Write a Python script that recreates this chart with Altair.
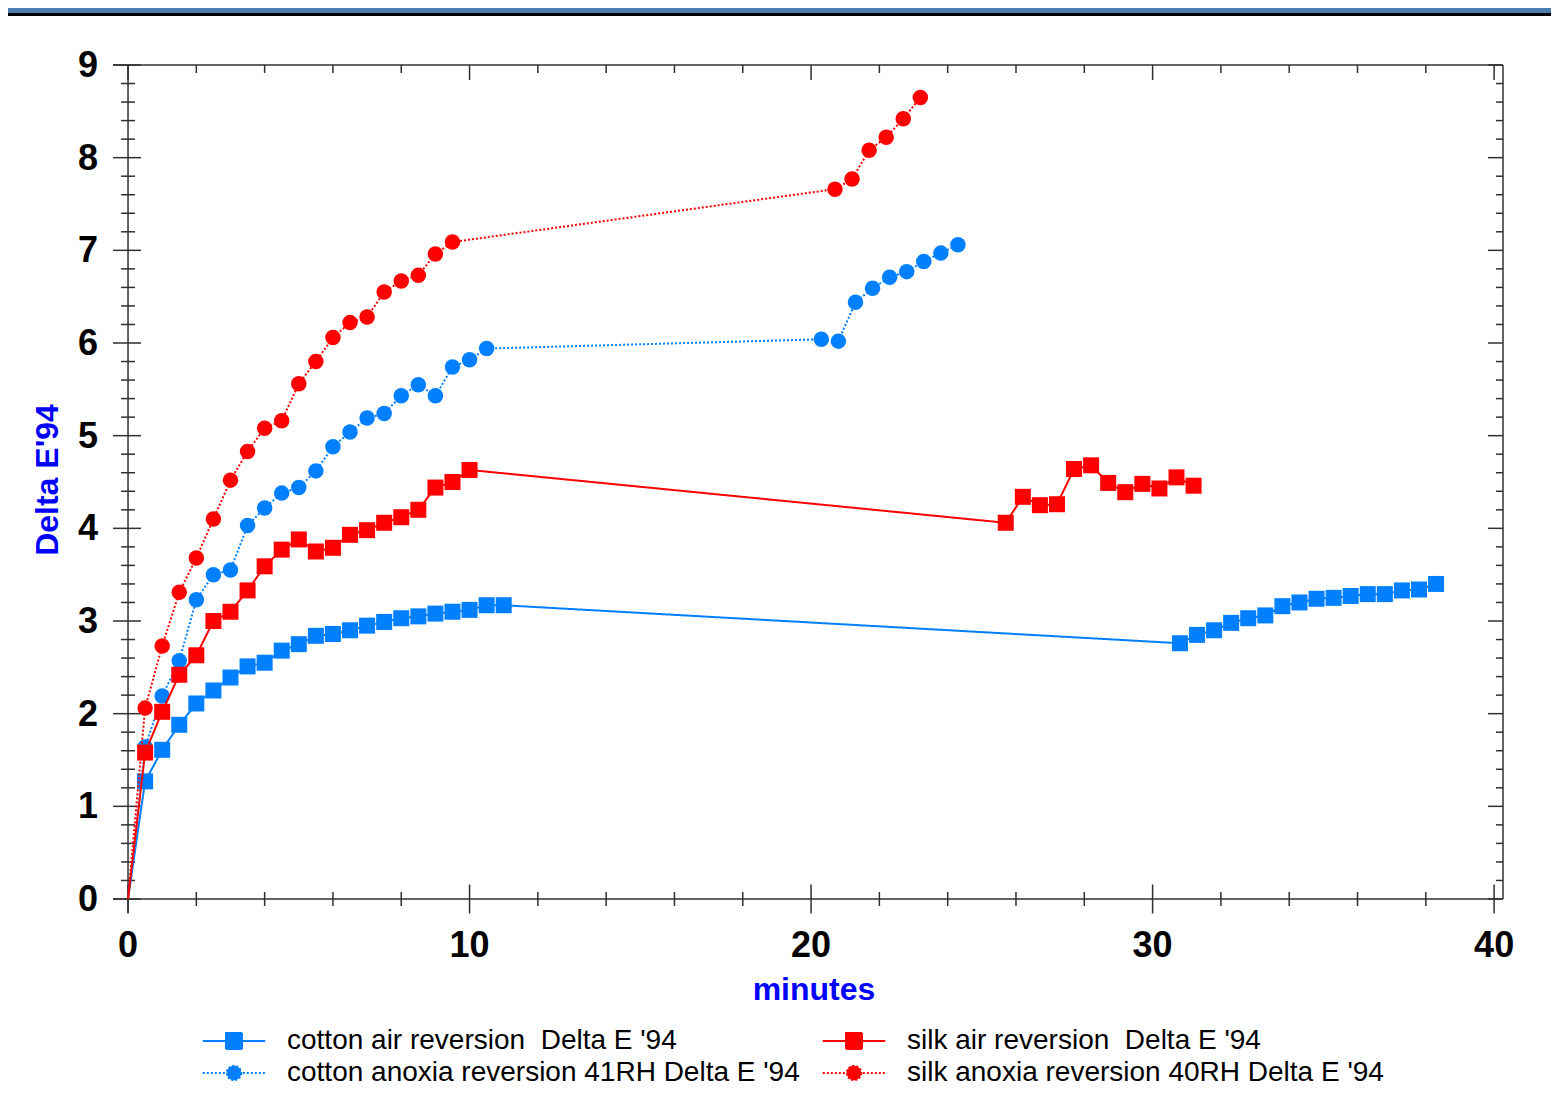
import altair as alt
import pandas as pd

# ---------------- data ----------------
series_names = [
    "cotton air reversion \u00a0Delta E '94",
    "cotton anoxia reversion 41RH Delta E '94",
    "silk air reversion \u00a0Delta E '94",
    "silk anoxia reversion 40RH Delta E '94",
]
series_colors = ["#0080ff", "#0080ff", "#ff0000", "#ff0000"]

cotton_air_x = [0, 0.5, 1, 1.5, 2, 2.5, 3, 3.5, 4, 4.5, 5, 5.5, 6, 6.5, 7, 7.5, 8, 8.5, 9, 9.5, 10, 10.5, 11,
                30.8, 31.3, 31.8, 32.3, 32.8, 33.3, 33.8, 34.3, 34.8, 35.3, 35.8, 36.3, 36.8, 37.3, 37.8, 38.3]
cotton_air_y = [0, 1.27, 1.61, 1.88, 2.11, 2.25, 2.39, 2.51, 2.55, 2.68, 2.75, 2.84, 2.86, 2.90, 2.95, 2.99,
                3.03, 3.05, 3.08, 3.10, 3.12, 3.17, 3.17,
                2.76, 2.85, 2.90, 2.98, 3.03, 3.06, 3.16, 3.20, 3.24, 3.25, 3.27, 3.29, 3.29, 3.33, 3.34, 3.40]

cotton_anoxia_x = [0, 0.5, 1, 1.5, 2, 2.5, 3, 3.5, 4, 4.5, 5, 5.5, 6, 6.5, 7, 7.5, 8, 8.5, 9, 9.5, 10, 10.5,
                   20.3, 20.8, 21.3, 21.8, 22.3, 22.8, 23.3, 23.8, 24.3]
cotton_anoxia_y = [0, 1.64, 2.19, 2.57, 3.23, 3.50, 3.55, 4.03, 4.22, 4.38, 4.44, 4.62, 4.88, 5.04, 5.19, 5.24,
                   5.43, 5.55, 5.43, 5.74, 5.82, 5.94,
                   6.04, 6.02, 6.44, 6.59, 6.71, 6.77, 6.88, 6.97, 7.06]

silk_air_x = [0, 0.5, 1, 1.5, 2, 2.5, 3, 3.5, 4, 4.5, 5, 5.5, 6, 6.5, 7, 7.5, 8, 8.5, 9, 9.5, 10,
              25.7, 26.2, 26.7, 27.2, 27.7, 28.2, 28.7, 29.2, 29.7, 30.2, 30.7, 31.2]
silk_air_y = [0, 1.58, 2.02, 2.42, 2.63, 3.00, 3.10, 3.33, 3.59, 3.77, 3.88, 3.75, 3.79, 3.93, 3.98, 4.06,
              4.12, 4.20, 4.44, 4.50, 4.63,
              4.06, 4.34, 4.25, 4.26, 4.64, 4.68, 4.49, 4.39, 4.48, 4.43, 4.55, 4.46]

silk_anoxia_x = [0, 0.5, 1, 1.5, 2, 2.5, 3, 3.5, 4, 4.5, 5, 5.5, 6, 6.5, 7, 7.5, 8, 8.5, 9, 9.5,
                 20.7, 21.2, 21.7, 22.2, 22.7, 23.2]
silk_anoxia_y = [0, 2.06, 2.73, 3.31, 3.68, 4.10, 4.52, 4.83, 5.08, 5.16, 5.56, 5.80, 6.06, 6.22, 6.28, 6.55,
                 6.67, 6.73, 6.96, 7.09,
                 7.66, 7.77, 8.08, 8.22, 8.42, 8.65]

x_major_ticks = [0, 10, 20, 30, 40]
x_minor_ticks = [2, 4, 6, 8, 12, 14, 16, 18, 22, 24, 26, 28, 32, 34, 36, 38]
y_major_ticks = [0, 1, 2, 3, 4, 5, 6, 7, 8, 9]
y_minor_ticks = [round(i * 0.2, 1) for i in range(1, 45) if i % 5 != 0]

x_title = ["minutes"]
y_title = ["Delta E'94"]

# ---------------- table ----------------
rows = []
for name, xs, ys in [
    (series_names[0], cotton_air_x, cotton_air_y),
    (series_names[1], cotton_anoxia_x, cotton_anoxia_y),
    (series_names[2], silk_air_x, silk_air_y),
    (series_names[3], silk_anoxia_x, silk_anoxia_y),
]:
    for a, b in zip(xs, ys):
        rows.append({"series": name, "minutes": a, "dE": b})
df = pd.DataFrame(rows)

W, H = 1390, 834
XMIN, XMAX = -0.44, 40.26
FONT = "Liberation Sans"
AX = "#303030"

xscale = alt.Scale(domain=[XMIN, XMAX], nice=False, zero=False)
yscale = alt.Scale(domain=[0, 9], nice=False, zero=False)

def tick_df(vals):
    return pd.DataFrame({"v": vals})

# scale carrier layer (invisible)
scale_layer = alt.Chart(tick_df(x_major_ticks)).mark_point(opacity=0).encode(
    x=alt.X("v:Q", scale=xscale, axis=None),
    y=alt.Y("v:Q", scale=yscale, axis=None),
)

layers = []
styles = {
    series_names[0]: ("#0080ff", [1, 0], "square", 256),
    series_names[1]: ("#0080ff", [2, 2], "circle", 240),
    series_names[2]: ("#ff0000", [1, 0], "square", 256),
    series_names[3]: ("#ff0000", [2, 2], "circle", 240),
}
for name in series_names:
    col, dash, shp, sz = styles[name]
    base = alt.Chart(df).transform_filter(alt.datum.series == name)
    line = base.mark_line(color=col, strokeWidth=2, strokeDash=dash).encode(
        x=alt.X("minutes:Q", axis=None),
        y=alt.Y("dE:Q", axis=None),
    )
    pts = base.transform_filter(alt.datum.minutes > 0).mark_point(
        filled=True, shape=shp, size=sz, color=col, opacity=1
    ).encode(
        x=alt.X("minutes:Q", axis=None),
        y=alt.Y("dE:Q", axis=None),
    )
    layers += [line, pts]

# ---------------- frame and ticks ----------------
frame = [
    alt.Chart(tick_df([0])).mark_rule(color=AX, strokeWidth=1.5).encode(
        x=alt.X("v:Q", axis=None), y=alt.value(0), y2=alt.value(H + 14)),
    alt.Chart(tick_df([9])).mark_rule(color=AX, strokeWidth=1.5).encode(
        y=alt.Y("v:Q", axis=None), x=alt.value(0), x2=alt.value(W)),
    alt.Chart(tick_df([0])).mark_rule(color=AX, strokeWidth=1.5).encode(
        y=alt.Y("v:Q", axis=None), x=alt.value(0), x2=alt.value(W)),
    alt.Chart(tick_df([9])).mark_rule(color=AX, strokeWidth=1.5).encode(
        x=alt.value(W), y=alt.value(0), y2=alt.value(H)),
]

def xt(vals, yv, size, yoff):
    d = pd.DataFrame({"v": vals, "w": [yv] * len(vals)})
    return alt.Chart(d).mark_tick(orient="vertical", size=size, thickness=1.5,
                                  color=AX, opacity=1, yOffset=yoff).encode(
        x=alt.X("v:Q", axis=None), y=alt.Y("w:Q", axis=None))

def yt(vals, xv, size, xoff):
    d = pd.DataFrame({"v": vals, "w": [xv] * len(vals)})
    return alt.Chart(d).mark_tick(orient="horizontal", size=size, thickness=1.5,
                                  color=AX, opacity=1, xOffset=xoff).encode(
        y=alt.Y("v:Q", axis=None), x=alt.X("w:Q", axis=None))

ticks = [
    xt(x_major_ticks, 0, 29, 0), xt(x_minor_ticks, 0, 14, 0),
    xt(x_major_ticks, 9, 15, 7.5), xt(x_minor_ticks, 9, 8, 4),
    yt(y_major_ticks, 0, 28, -1), yt(y_minor_ticks, 0, 14, 0),
    yt(y_major_ticks, XMAX, 15, -7.5), yt(y_minor_ticks, XMAX, 7, -3.5),
]

# tick labels and axis titles as text marks
texts = [
    alt.Chart(tick_df(x_major_ticks)).mark_text(
        font=FONT, fontSize=36, fontWeight="bold", color="black", align="center", baseline="alphabetic"
    ).encode(x=alt.X("v:Q", axis=None), y=alt.value(H + 58), text=alt.Text("v:Q")),
    alt.Chart(tick_df(y_major_ticks)).mark_text(
        font=FONT, fontSize=36, fontWeight="bold", color="black", align="right", baseline="alphabetic", dy=12
    ).encode(y=alt.Y("v:Q", axis=None), x=alt.value(-15), text=alt.Text("v:Q")),
    alt.Chart(pd.DataFrame({"t": x_title})).mark_text(
        font=FONT, fontSize=32, fontWeight="bold", color="#0000ff", align="center", baseline="alphabetic"
    ).encode(x=alt.value(701), y=alt.value(H + 101), text="t:N"),
    alt.Chart(pd.DataFrame({"t": y_title})).mark_text(
        font=FONT, fontSize=32, fontWeight="bold", color="#0000ff", align="center", baseline="alphabetic",
        angle=270
    ).encode(x=alt.value(-55), y=alt.value(415), text="t:N"),
]

# window bar at the very top
bar = [
    alt.Chart(tick_df([0])).mark_rect(color="#4a7eb0").encode(
        x=alt.value(-105), x2=alt.value(W + 48), y=alt.value(-57), y2=alt.value(-52)),
    alt.Chart(tick_df([0])).mark_rect(color="#000000").encode(
        x=alt.value(-105), x2=alt.value(W + 48), y=alt.value(-52), y2=alt.value(-49)),
]

# ---------------- legend ----------------
sq_path = "M-3.9,0H3.9M-1,-1H1V1H-1Z"
ci_path = "M-3.9,0H3.9M0.9,0A0.9,0.9,0,1,1,-0.9,0A0.9,0.9,0,1,1,0.9,0Z"
leg = alt.Legend(title=None, orient="none", legendX=107, legendY=962, columns=2, columnPadding=18,
                 rowPadding=4, labelFont=FONT, labelFontSize=28, labelColor="black", labelLimit=0,
                 labelOffset=39, symbolSize=256, symbolStrokeWidth=2, symbolOpacity=1, padding=0)
legend_layer = alt.Chart(df).transform_filter("false").mark_point(filled=True, opacity=1).encode(
    x=alt.X("minutes:Q", axis=None),
    y=alt.Y("dE:Q", axis=None),
    fill=alt.Fill("series:N", scale=alt.Scale(domain=series_names, range=series_colors), legend=leg),
    stroke=alt.Stroke("series:N", scale=alt.Scale(domain=series_names, range=series_colors), legend=leg),
    shape=alt.Shape("series:N", scale=alt.Scale(domain=series_names,
                                                range=[sq_path, ci_path, sq_path, ci_path]), legend=leg),
    strokeDash=alt.StrokeDash("series:N", scale=alt.Scale(domain=series_names,
                                                          range=[[1, 0], [2, 2], [1, 0], [2, 2]]), legend=leg),
)

chart = alt.layer(scale_layer, *bar, *frame, *ticks, *texts, *layers, legend_layer).properties(
    width=W, height=H,
    autosize=alt.AutoSizeParams(type="none"),
    padding={"left": 105, "top": 57, "right": 48, "bottom": 190},
    background="white",
).configure_view(strokeWidth=0)

chart.save("out.html", embed_options={"renderer": "svg", "actions": False})
